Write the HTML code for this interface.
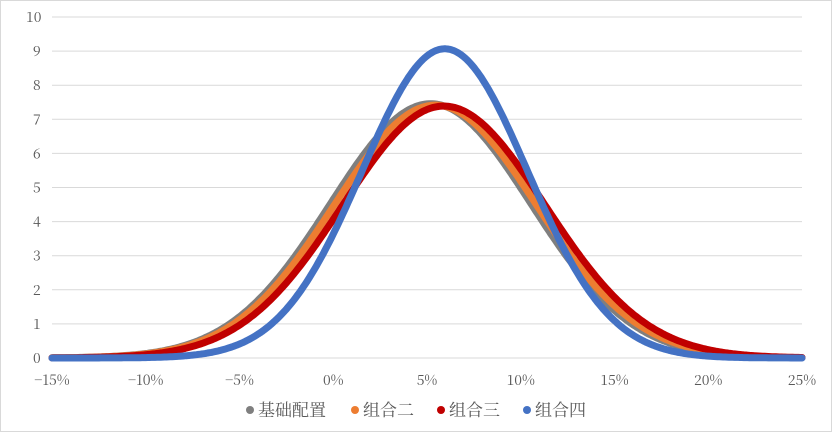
<!DOCTYPE html>
<html><head><meta charset="utf-8"><style>
body{margin:0;background:#fff;}
svg{display:block;font-family:"Noto Serif CJK SC","Liberation Serif",serif;}
</style></head><body>
<svg id="s" width="832" height="432" viewBox="0 0 832 432">
<rect x="0.5" y="0.5" width="831" height="431" fill="#fff" stroke="#d9d9d9"/>
<g id="grid" stroke="#d9d9d9" stroke-width="1"></g>
<g id="curves" fill="none" stroke-linecap="round" stroke-linejoin="round" stroke-width="7"></g>
<g id="lab" fill="#595959" font-size="14"></g>
<g font-size="17" fill="#595959">
<circle cx="250" cy="410" r="4" fill="#7f7f7f"/><text x="258" y="416">基础配置</text>
<circle cx="355" cy="410" r="4" fill="#ed7d31"/><text x="363" y="416">组合二</text>
<circle cx="441" cy="410" r="4" fill="#c00000"/><text x="449" y="416">组合三</text>
<circle cx="527" cy="410" r="4" fill="#4472c4"/><text x="535" y="416">组合四</text>
</g>
</svg>
<script>
var ns="http://www.w3.org/2000/svg";
function X(p){return 52+(p+15)*18.75;}
function Y(v){return 358-v*34.1;}
var g=document.getElementById('grid'),l=document.getElementById('lab'),c=document.getElementById('curves');
for(var i=0;i<=10;i++){var ln=document.createElementNS(ns,'line');ln.setAttribute('x1',52);ln.setAttribute('x2',802);ln.setAttribute('y1',Y(i));ln.setAttribute('y2',Y(i));g.appendChild(ln);
var t=document.createElementNS(ns,'text');t.setAttribute('x',i==10?26:33);t.setAttribute('y',Y(i)+5);t.textContent=i;l.appendChild(t);}
for(var p=-15;p<=25;p+=5){var t=document.createElementNS(ns,'text');t.setAttribute('x',X(p));t.setAttribute('y',385);t.setAttribute('text-anchor','middle');t.textContent=(p<0?'\u2212'+(-p):p)+'%';l.appendChild(t);}
var S=[["#7f7f7f",5.2,5.35],["#ed7d31",5.45,5.38],["#c00000",5.9,5.4],["#4472c4",5.95,4.4]];
S.forEach(function(s){var d='';for(var p=-15;p<=25.001;p+=0.1){var z=(p-s[1])/s[2];var v=Math.exp(-z*z/2)/(s[2]/100*2.5066);d+=(d?'L':'M')+X(p).toFixed(1)+' '+Y(v).toFixed(1);}
var pa=document.createElementNS(ns,'path');pa.setAttribute('d',d);pa.setAttribute('stroke',s[0]);c.appendChild(pa);});
</script>
</body></html>
